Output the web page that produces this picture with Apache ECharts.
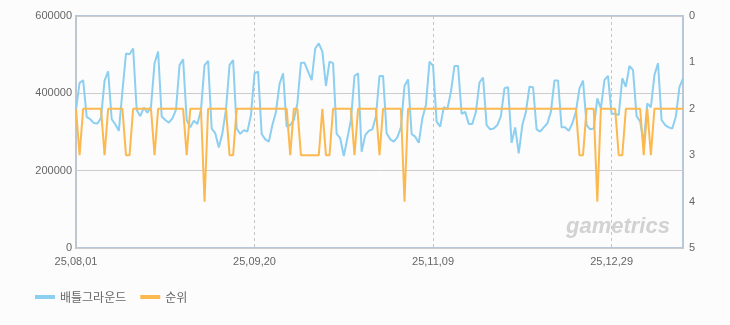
<!DOCTYPE html>
<html><head><meta charset="utf-8">
<script src="https://cdn.jsdelivr.net/npm/echarts@6/dist/echarts.min.js"></script>
<style>html,body{margin:0;padding:0;background:#fcfcfc;}#c{width:730px;height:325px;}</style>
</head><body><div id="c"></div>
<script>
const startDate = [2025, 8, 1];
const dayCount = 171;
const seriesNames = ['배틀그라운드', '순위'];
const players = [
357000,427000,434000,339000,333000,323000,322000,336000,433000,457000,
333000,320000,303000,405000,503000,501000,516000,357000,341000,363000,
350000,365000,478000,508000,340000,331000,324000,335000,357000,473000,
488000,331000,312000,329000,321000,357000,473000,484000,309000,297000,
260000,297000,357000,473000,486000,309000,295000,305000,301000,344000,
452000,456000,295000,281000,275000,318000,352000,424000,452000,314000,
318000,331000,374000,479000,479000,456000,434000,516000,529000,508000,
419000,482000,478000,295000,284000,238000,284000,331000,445000,452000,
249000,292000,303000,307000,340000,445000,445000,297000,281000,275000,
286000,312000,419000,436000,295000,288000,272000,335000,370000,482000,
471000,327000,314000,364000,359000,404000,471000,471000,347000,352000,
321000,321000,352000,428000,441000,318000,307000,309000,318000,341000,
413000,416000,272000,312000,245000,318000,352000,417000,416000,307000,
301000,312000,322000,352000,433000,433000,312000,312000,303000,322000,
352000,413000,433000,318000,307000,309000,387000,361000,434000,445000,
347000,347000,344000,439000,417000,471000,460000,341000,327000,271000,
374000,364000,447000,478000,331000,318000,312000,309000,340000,416000,
439000];
const rank = [
2,3,2,2,2,2,2,2,3,2,
2,2,2,2,3,3,2,2,2,2,
2,2,3,2,2,2,2,2,2,2,
2,3,2,2,2,2,4,2,2,2,
2,2,2,3,3,2,2,2,2,2,
2,2,2,2,2,2,2,2,2,2,
3,2,2,3,3,3,3,3,3,2,
3,3,2,2,2,2,2,2,3,2,
2,2,2,2,2,3,2,2,2,2,
2,2,4,2,2,2,2,2,2,2,
2,2,2,2,2,2,2,2,2,2,
2,2,2,2,2,2,2,2,2,2,
2,2,2,2,2,2,2,2,2,2,
2,2,2,2,2,2,2,2,2,2,
2,3,3,2,2,2,4,2,2,2,
2,2,3,3,2,2,2,2,2,3,
2,3,2,2,2,2,2,2,2,2,
2];
const leftTicks = {min: 0, max: 600000, interval: 200000};
const rightTicks = {min: 0, max: 5, interval: 1};

const p2 = n => (n < 10 ? '0' : '') + n;
const categories = [];
for (let i = 0; i < dayCount; i++) {
  const d = new Date(Date.UTC(startDate[0], startDate[1] - 1, startDate[2] + i));
  categories.push(p2(d.getUTCFullYear() % 100) + ',' + p2(d.getUTCMonth() + 1) + ',' + p2(d.getUTCDate()));
}

const chart = echarts.init(document.getElementById('c'), null, {renderer: 'canvas'});
const labelFont = {color: '#666', fontSize: 11, fontFamily: 'Liberation Sans, Arial, sans-serif'};
chart.setOption({
  backgroundColor: '#fcfcfc',
  animation: false,
  grid: {left: 76, right: 47, top: 16, bottom: 77, show: true, borderColor: '#b9c8d9', borderWidth: 2, backgroundColor: '#fcfcfc'},
  legend: {
    left: 30, bottom: 17, itemGap: 14, itemWidth: 20, itemHeight: 4, icon: 'rect',
    textStyle: {color: '#666', fontSize: 12, fontFamily: 'Noto Sans CJK KR, sans-serif'},
    data: seriesNames
  },
  graphic: [{
    type: 'text', left: 566, top: 216, z: 0,
    style: {text: 'gametrics', fill: '#d2d2d2', font: 'italic bold 22px Liberation Sans, Arial, sans-serif'}
  }],
  xAxis: {
    type: 'category', boundaryGap: false, data: categories,
    axisLine: {show: false}, axisTick: {show: false},
    axisLabel: Object.assign({interval: 49, margin: 8}, labelFont),
    splitLine: {show: true, interval: 49, lineStyle: {color: '#c4c4c4', type: [3, 3], width: 1}}
  },
  yAxis: [{
    type: 'value', min: leftTicks.min, max: leftTicks.max, interval: leftTicks.interval,
    axisLine: {show: false}, axisTick: {show: false},
    axisLabel: Object.assign({margin: 4, formatter: v => String(v)}, labelFont),
    splitLine: {show: true, lineStyle: {color: '#cccccc', width: 1}}
  }, {
    type: 'value', inverse: true, min: rightTicks.min, max: rightTicks.max, interval: rightTicks.interval,
    position: 'right',
    axisLine: {show: false}, axisTick: {show: false},
    axisLabel: Object.assign({margin: 6, formatter: v => String(v)}, labelFont),
    splitLine: {show: false}
  }],
  series: [{
    name: seriesNames[0], type: 'line', data: players, yAxisIndex: 0,
    showSymbol: false, symbol: 'none',
    lineStyle: {color: '#8ccff0', width: 2},
    itemStyle: {color: '#8ccff0'}
  }, {
    name: seriesNames[1], type: 'line', data: rank, yAxisIndex: 1,
    showSymbol: false, symbol: 'none',
    lineStyle: {color: '#fbb94f', width: 2},
    itemStyle: {color: '#fbb94f'}
  }]
});
</script></body></html>
